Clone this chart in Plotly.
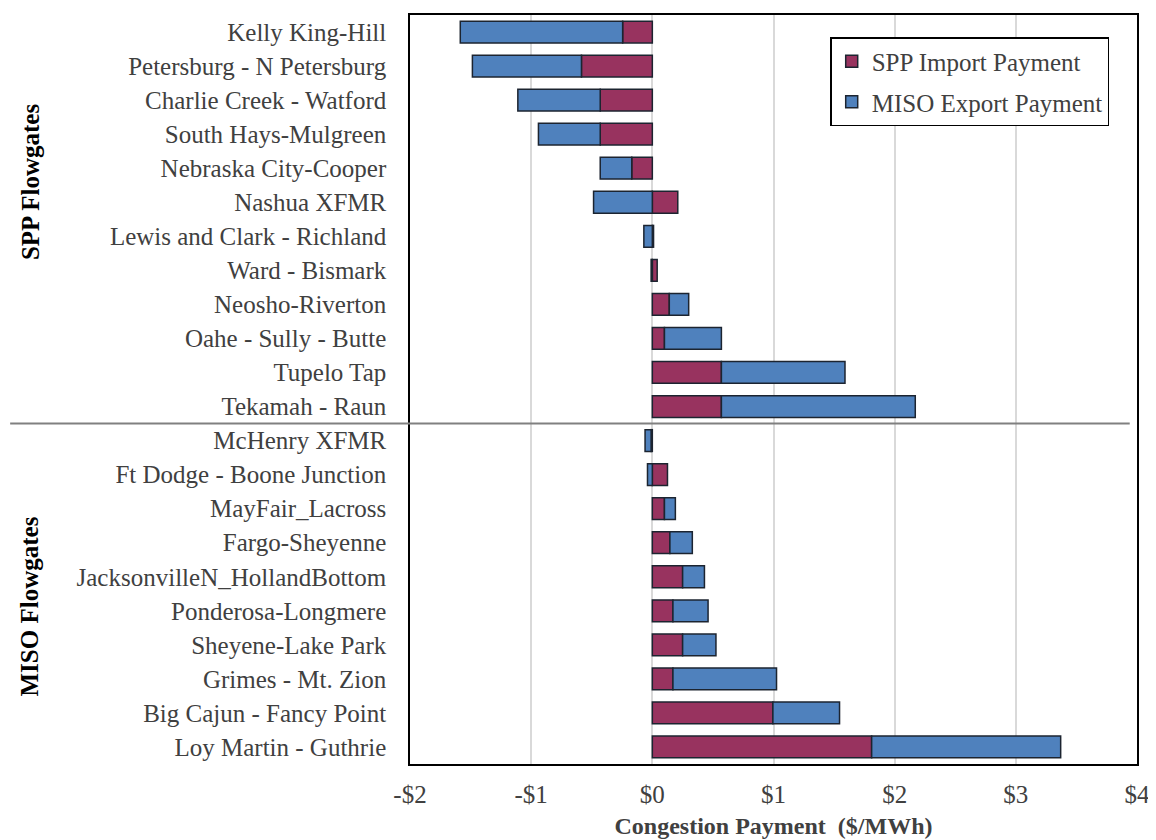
import plotly.graph_objects as go

flowgates = [
    "Kelly King-Hill", "Petersburg - N Petersburg", "Charlie Creek - Watford",
    "South Hays-Mulgreen", "Nebraska City-Cooper", "Nashua XFMR",
    "Lewis and Clark - Richland", "Ward - Bismark", "Neosho-Riverton",
    "Oahe - Sully - Butte", "Tupelo Tap", "Tekamah - Raun",
    "McHenry XFMR", "Ft Dodge - Boone Junction", "MayFair_Lacross",
    "Fargo-Sheyenne", "JacksonvilleN_HollandBottom", "Ponderosa-Longmere",
    "Sheyene-Lake Park", "Grimes - Mt. Zion", "Big Cajun - Fancy Point",
    "Loy Martin - Guthrie",
]
spp_import = [-0.245, -0.585, -0.43, -0.43, -0.17, 0.21, 0.01, 0.04, 0.14, 0.10, 0.57, 0.57,
              -0.01, 0.125, 0.10, 0.145, 0.25, 0.17, 0.25, 0.17, 0.995, 1.81]
miso_export = [-1.34, -0.90, -0.68, -0.51, -0.26, -0.485, -0.07, -0.01, 0.16, 0.47, 1.02, 1.60,
               -0.05, -0.04, 0.09, 0.185, 0.18, 0.29, 0.275, 0.855, 0.55, 1.56]
tick_vals = [-2, -1, 0, 1, 2, 3, 4]
tick_text = ["-$2", "-$1", "$0", "$1", "$2", "$3", "$4"]

FONT = "Liberation Serif, Times New Roman, serif"
RED = "#98335F"
BLUE = "#4F81BD"
EDGE = "#1c2430"
TXT = "#404040"

fig = go.Figure()
fig.add_trace(go.Bar(y=flowgates, x=spp_import, orientation="h", name="SPP Import Payment",
                     marker=dict(color=RED, line=dict(color=EDGE, width=1.5)),
                     legendgroup="a"))
fig.add_trace(go.Bar(y=flowgates, x=miso_export, orientation="h", name="MISO Export Payment",
                     marker=dict(color=BLUE, line=dict(color=EDGE, width=1.5)),
                     legendgroup="b"))

fig.update_layout(
    width=1148, height=832,
    margin=dict(l=402, r=19, t=5, b=75),
    barmode="relative", bargap=0.36,
    plot_bgcolor="white", paper_bgcolor="white",
    font=dict(family=FONT, size=25, color=TXT),
    showlegend=True,
    legend=dict(x=0.578, y=0.9705, xanchor="left", yanchor="top",
                bordercolor="#000000", borderwidth=1.5, bgcolor="white",
                font=dict(family=FONT, size=25, color=TXT),
                itemwidth=30,
                traceorder="grouped", tracegroupgap=5),
    xaxis=dict(range=[-2, 4], tickvals=tick_vals, ticktext=tick_text,
               showgrid=True, gridcolor="#d9d9d9", gridwidth=1.5,
               zeroline=True, zerolinecolor="#d9d9d9", zerolinewidth=1.5,
               showline=True, linecolor="#000000", linewidth=1.5, mirror=True,
               ticks="", ticklabelstandoff=7,
               tickfont=dict(family=FONT, size=25, color=TXT),
               title=dict(text="<b>Congestion Payment  ($/MWh)</b>",
                          font=dict(family=FONT, size=24, color=TXT), standoff=10)),
    yaxis=dict(categoryorder="array", categoryarray=flowgates, autorange="reversed",
               showgrid=False, showline=True, linecolor="#000000", linewidth=1.5, mirror=True,
               ticks="", ticklabelstandoff=17,
               tickfont=dict(family=FONT, size=25, color=TXT)),
)

fig.add_shape(type="line", xref="paper", yref="y", x0=-0.55, x1=0.99, y0=11.5, y1=11.5,
              line=dict(color="#808080", width=2))

fig.add_annotation(text="<b>SPP Flowgates</b>", xref="paper", yref="paper",
                   x=-0.523, y=0.778, textangle=-90, showarrow=False,
                   xanchor="center", yanchor="middle",
                   font=dict(family=FONT, size=25, color="#000000"))
fig.add_annotation(text="<b>MISO Flowgates</b>", xref="paper", yref="paper",
                   x=-0.523, y=0.21, textangle=-90, showarrow=False,
                   xanchor="center", yanchor="middle",
                   font=dict(family=FONT, size=25, color="#000000"))

fig.write_html("out.html")
